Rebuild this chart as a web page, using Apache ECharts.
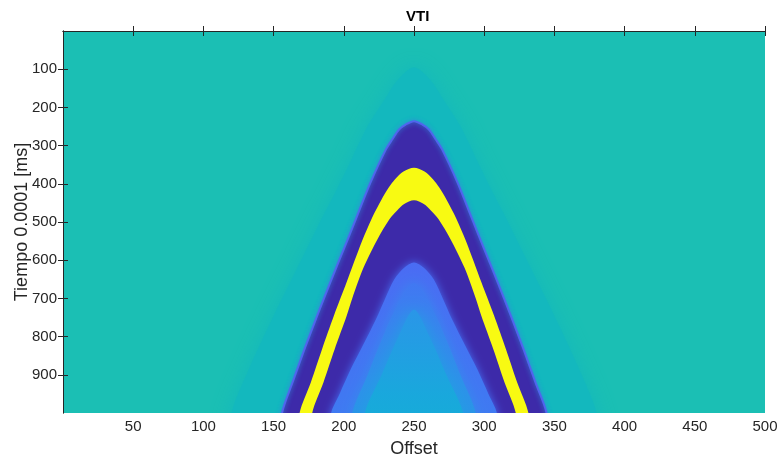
<!DOCTYPE html>
<html>
<head>
<meta charset="utf-8">
<script src="https://cdn.jsdelivr.net/npm/echarts@6/dist/echarts.min.js"></script>
<style>html,body{margin:0;padding:0;background:#fff}#c{width:780px;height:459px}</style>
</head>
<body>
<div id="c"></div>
<script>
// ---- data (offset, time) ----
const xTickValues = [50, 100, 150, 200, 250, 300, 350, 400, 450, 500];
const yTickValues = [100, 200, 300, 400, 500, 600, 700, 800, 900];

// faint precursor front (darker teal)
const faintT = [95, 130, 180, 249, 340, 422, 493, 620, 746, 880, 1000];
const faintL = [250, 238, 229, 217, 205, 194, 184, 167, 150, 133, 120];
const faintR = [250, 262, 271, 283, 295, 306, 316, 333, 350, 367, 380];

// outer edge of the dark-blue wavelet
const blueT = [236, 245, 257.5, 284, 310, 397, 484, 571, 658, 746, 833, 920, 1000];
const blueL = [250, 244, 239.5, 234.5, 230, 219, 209.5, 200, 190.4, 181, 172, 163.5, 156];
const blueR = [250, 256, 260.5, 265.5, 270, 281, 290.5, 300, 309.6, 319, 328, 336.5, 344.4];

// top edge of the yellow band
const yelTopT = [358, 368, 388, 410, 440.5, 490, 550, 658, 745, 833, 920, 1000];
const yelTopL = [250, 242.5, 236.5, 232, 227, 220, 213, 202, 193, 184.5, 176.5, 168.5];
const yelTopR = [250, 257.5, 263.5, 268, 273, 280, 287, 298, 307, 315.5, 323.5, 331.5];

// bottom edge of the yellow band
const yelBotT = [443, 453, 470, 493, 545, 620, 700, 746, 833, 920, 1000];
const yelBotL = [250, 243, 238, 232.5, 224, 214, 206, 202, 193.5, 185.5, 177.5];
const yelBotR = [250, 257, 262, 267.5, 276, 286, 294, 298, 306.5, 314.5, 322.5];

// edge of the inner light-blue region
const innerT = [606, 620, 650, 700, 754, 820, 885, 950, 1000];
const innerL = [250, 243, 236, 229.5, 223, 214, 205, 197, 191];
const innerR = [250, 257, 264, 270.5, 277, 286, 295, 303, 309];

// middle shade of the inner region
const midT = [660, 720, 800, 900, 1000];
const midL = [250, 238, 228, 217, 206];
const midR = [250, 262, 272, 283, 294];

// cyan core of the inner region
const coreT = [730, 800, 900, 1000];
const coreL = [250, 239, 227, 215];
const coreR = [250, 261, 273, 285];

const chart = echarts.init(document.getElementById('c'), null, {renderer: 'canvas'});

function band(T, L, R, style, z, smooth) {
  const pts = [];
  for (let i = T.length - 1; i >= 0; i--) pts.push([L[i], T[i]]);
  for (let i = 1; i < T.length; i++) pts.push([R[i], T[i]]);
  return {
    type: 'custom',
    coordinateSystem: 'cartesian2d',
    clip: true,
    silent: true,
    z: z,
    data: pts,
    encode: {x: 0, y: 1},
    renderItem: function (params, api) {
      if (params.dataIndex !== 0) return null;
      const p = pts.map(function (d) { return api.coord(d); });
      const f = p[0], l = p[p.length - 1];
      const poly = [[f[0] - 8, f[1] + 60]].concat(p).concat([[l[0] + 8, l[1] + 60]]);
      return {type: 'polygon', shape: {points: poly, smooth: smooth}, style: style};
    }
  };
}

function vgrad(stops) {
  return {type: 'linear', x: 0, y: 0, x2: 0, y2: 1,
    colorStops: stops.map(function (s) { return {offset: s[0], color: s[1]}; })};
}

const axisColor = '#262626';
const font = '"Liberation Sans", Arial, Helvetica, sans-serif';

function axisCommon(pos, showLabels, ticks) {
  return {
    position: pos,
    axisLine: {show: true, lineStyle: {color: axisColor, width: 1}},
    axisTick: {show: true, inside: true, length: 5, lineStyle: {color: axisColor}, customValues: ticks},
    axisLabel: showLabels ? {fontFamily: font, fontSize: 15, color: axisColor, margin: 6, customValues: ticks} : {show: false},
    splitLine: {show: false}
  };
}

const option = {
  animation: false,
  title: {
    text: 'VTI', left: 401, top: 4,
    textStyle: {fontFamily: font, fontWeight: 'bold', fontSize: 15, color: '#000'}
  },
  grid: {left: 63, right: 15, top: 31, bottom: 46, outerBoundsMode: 'none', containLabel: false,
    backgroundColor: '#1BBFB4', show: true, borderWidth: 0},
  xAxis: [
    Object.assign({type: 'value', min: 0, max: 500, interval: 50,
      name: 'Offset', nameLocation: 'middle', nameGap: 27, nameMoveOverlap: false,
      nameTextStyle: {fontFamily: font, fontSize: 18, color: axisColor}}, axisCommon('bottom', true, xTickValues)),
    Object.assign({type: 'value', min: 0, max: 500, interval: 50}, axisCommon('top', false, xTickValues))
  ],
  yAxis: [
    Object.assign({type: 'value', min: 0, max: 1000, interval: 100, inverse: true,
      name: 'Tiempo 0.0001 [ms]', nameLocation: 'middle', nameGap: 32, nameMoveOverlap: false,
      nameTextStyle: {fontFamily: font, fontSize: 18, color: axisColor}}, axisCommon('left', true, yTickValues)),
    Object.assign({type: 'value', min: 0, max: 1000, interval: 100, inverse: true}, axisCommon('right', false, yTickValues))
  ],
  series: [
    band(faintT, faintL, faintR, {fill: '#13B8BE', shadowBlur: 18, shadowColor: '#13B8BE'}, 1, 0.3),
    band(blueT, blueL, blueR, {fill: '#3D2AA9', stroke: '#5064EE', lineWidth: 2, shadowBlur: 5, shadowColor: '#2F90D8'}, 2, 0.3),
    band(yelTopT, yelTopL, yelTopR, {fill: '#F8FA12'}, 3, 0.3),
    band(yelBotT, yelBotL, yelBotR, {fill: '#3D2AA9'}, 4, 0.3),
    band(innerT, innerL, innerR, {fill: vgrad([[0, '#4A6CF3'], [0.6, '#4078F2'], [1, '#3A80F0']]),
      shadowBlur: 8, shadowColor: '#4470F4'}, 5, 0.3),
    band(midT, midL, midR, {fill: vgrad([[0, '#4178F2'], [0.5, '#2E90EA'], [1, '#2398E4']]),
      shadowBlur: 14, shadowColor: '#3788EE'}, 6, 0.3),
    band(coreT, coreL, coreR, {fill: vgrad([[0, '#2A96E8'], [0.5, '#19A8DC'], [1, '#10B3D0']]),
      shadowBlur: 18, shadowColor: '#1FA2E0'}, 7, 0.3)
  ]
};
chart.setOption(option);
</script>
</body>
</html>
